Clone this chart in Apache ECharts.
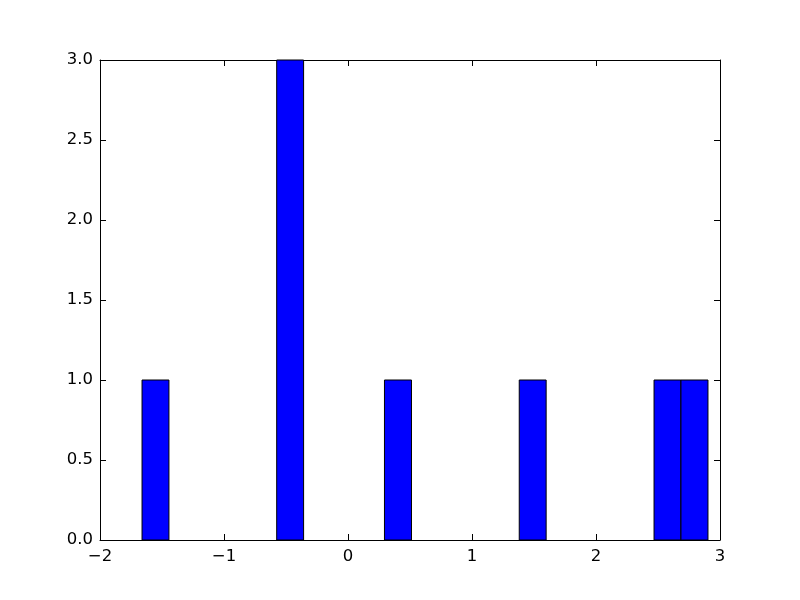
<!DOCTYPE html>
<html>
<head>
<meta charset="utf-8">
<script src="https://cdn.jsdelivr.net/npm/echarts@6/dist/echarts.min.js"></script>
<style>html,body{margin:0;padding:0;background:#fff}#chart{width:800px;height:600px}</style>
</head>
<body>
<div id="chart"></div>
<script>
// Histogram bins (left edge, right edge) and counts
const binStart = [-1.661, -0.575, 0.294, 1.381, 2.468, 2.685];
const binEnd   = [-1.444, -0.358, 0.512, 1.598, 2.685, 2.903];
const counts   = [1, 3, 1, 1, 1, 1];
const xTicks = [-2, -1, 0, 1, 2, 3];
const yTicks = [0.0, 0.5, 1.0, 1.5, 2.0, 2.5, 3.0];

const data = binStart.map((s, i) => [s, binEnd[i], counts[i]]);
const FONT = 'DejaVu Sans';
const FS = 16.5;

function baseX(pos, showLabel) {
  return {
    type: 'value', position: pos, min: xTicks[0], max: xTicks[xTicks.length - 1], interval: 1,
    axisLine: { show: true, onZero: false, lineStyle: { color: '#000', width: 1 } },
    axisTick: { show: true, inside: true, length: 6, lineStyle: { color: '#000' } },
    splitLine: { show: false },
    axisLabel: {
      show: showLabel, margin: 8, color: '#000', fontFamily: FONT, fontSize: FS,
      formatter: v => String(v).replace('-', '\u2212')
    }
  };
}
function baseY(pos, showLabel) {
  return {
    type: 'value', position: pos, min: yTicks[0], max: yTicks[yTicks.length - 1], interval: 0.5,
    axisLine: { show: true, onZero: false, lineStyle: { color: '#000', width: 1 } },
    axisTick: { show: true, inside: true, length: 6, lineStyle: { color: '#000' } },
    splitLine: { show: false },
    axisLabel: {
      show: showLabel, margin: 7, color: '#000', fontFamily: FONT, fontSize: FS,
      formatter: v => v.toFixed(1)
    }
  };
}

const chart = echarts.init(document.getElementById('chart'), null, { renderer: 'canvas' });
chart.setOption({
  animation: false,
  backgroundColor: '#fff',
  grid: { left: 100, right: 80, top: 60, bottom: 60, containLabel: false },
  xAxis: [baseX('bottom', true), baseX('top', false)],
  yAxis: [baseY('left', true), baseY('right', false)],
  series: [{
    type: 'custom',
    xAxisIndex: 0, yAxisIndex: 0,
    data: data,
    encode: { x: [0, 1], y: 2 },
    renderItem: function (params, api) {
      const p0 = api.coord([api.value(0), 0]);
      const p1 = api.coord([api.value(1), api.value(2)]);
      return {
        type: 'rect',
        shape: { x: p0[0], y: p1[1], width: p1[0] - p0[0], height: p0[1] - p1[1] },
        style: { fill: '#0000ff', stroke: '#000', lineWidth: 1 }
      };
    }
  }]
});
</script>
</body>
</html>
